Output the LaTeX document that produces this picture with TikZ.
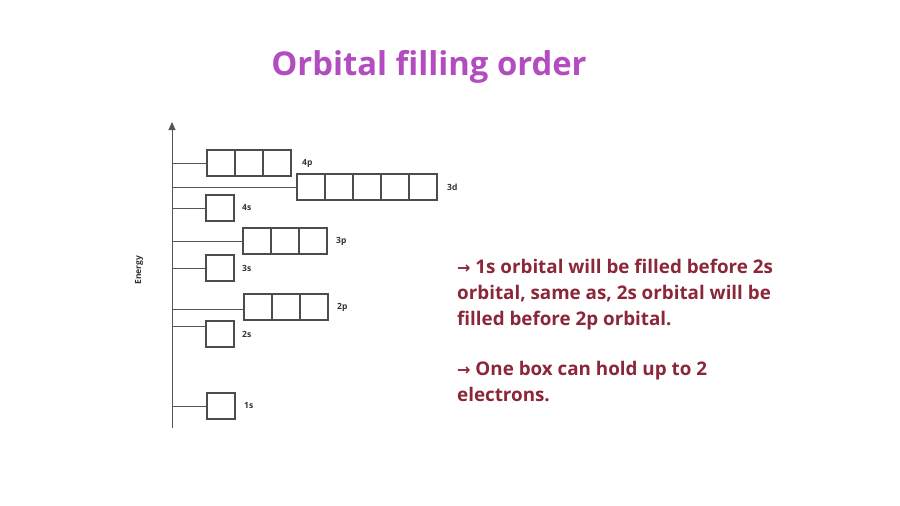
\documentclass[tikz,border=0pt]{standalone}
\usepackage{fontspec}
\setmainfont{Open Sans}
\newfontfamily\arrowfont{DejaVu Sans}
\usepackage{xcolor}
\usetikzlibrary{arrows.meta,positioning}
\definecolor{titlepurple}{HTML}{B24CC0}
\definecolor{notered}{HTML}{8A2738}
\definecolor{axisgrey}{HTML}{555555}
\newcommand{\noteArrow}{{\arrowfont\fontsize{16}{16}\selectfont\symbol{"2192}}}
\begin{document}
\begin{tikzpicture}[
        x=1pt, y=-1pt,
        font=\bfseries,
        orb/.style={draw=axisgrey!90!black, line width=1.2pt, minimum width=28pt, minimum height=26pt, inner sep=0pt, outer sep=0pt},
        lvl/.style={draw=axisgrey, line width=0.9pt},
        sub/.style={font=\bfseries\fontsize{8.5}{9}\selectfont, text=black!80, anchor=west, inner sep=0pt},
        note/.style={font=\bfseries\fontsize{18.8}{26}\selectfont, text=notered, align=left, anchor=north west, inner sep=0pt}
    ]
        \useasboundingbox (0,0) rectangle (900,506);
        % axis
        \coordinate (axbot) at (172,428);
        \coordinate (axtop) at (172,122);
        \draw[lvl, -{Triangle[length=8pt,width=7pt]}] (axbot) -- (axtop);
        \node[font=\bfseries\fontsize{8.5}{9}\selectfont, text=black!80, rotate=90] (energy) at (139,270) {Energy};
        % 4p
        \node[orb] (p4a) at (221,163) {};
        \node[orb, right=0pt of p4a] (p4b) {};
        \node[orb, right=0pt of p4b] (p4c) {};
        \node[sub, right=11pt of p4c] {4p};
        \draw[lvl] (172,163) -- (p4a.west);
        % 3d
        \node[orb] (d3a) at (311,187) {};
        \node[orb, right=0pt of d3a] (d3b) {};
        \node[orb, right=0pt of d3b] (d3c) {};
        \node[orb, right=0pt of d3c] (d3d) {};
        \node[orb, right=0pt of d3d] (d3e) {};
        \node[sub, right=10pt of d3e] {3d};
        \draw[lvl] (172,187) -- (d3a.west);
        % 4s
        \node[orb] (s4) at (220,208) {};
        \node[sub, right=8pt of s4] {4s};
        \draw[lvl] (172,208) -- (s4.west);
        % 3p
        \node[orb] (p3a) at (257,241) {};
        \node[orb, right=0pt of p3a] (p3b) {};
        \node[orb, right=0pt of p3b] (p3c) {};
        \node[sub, right=9pt of p3c] {3p};
        \draw[lvl] (172,241) -- (p3a.west);
        % 3s
        \node[orb] (s3) at (220,268) {};
        \node[sub, right=8pt of s3] {3s};
        \draw[lvl] (172,268) -- (s3.west);
        % 2p
        \node[orb] (p2a) at (258,307) {};
        \node[orb, right=0pt of p2a] (p2b) {};
        \node[orb, right=0pt of p2b] (p2c) {};
        \node[sub, right=9pt of p2c] {2p};
        \draw[lvl] (172,309) -- (p2a.west |- 0,309);
        % 2s
        \node[orb] (s2) at (220,334) {};
        \node[sub, right=8pt of s2] {2s};
        \draw[lvl] (172,326) -- (s2.west |- 0,326);
        % 1s
        \node[orb] (s1) at (221,406) {};
        \node[sub, right=9pt of s1] {1s};
        \draw[lvl] (172,406) -- (s1.west);
        % title and notes
        \node[font=\bfseries\fontsize{32.8}{36}\selectfont, text=titlepurple] (title) at (429,67) {Orbital filling order};
        \node[note] (note1) at (457,259) {\noteArrow{} 1s orbital will be filled before 2s\\orbital, same as, 2s orbital will be\\filled before 2p orbital.};
        \node[note] (note2) at (457,361) {\noteArrow{} One box can hold up to 2\\electrons.};
    \end{tikzpicture}
\end{document}
